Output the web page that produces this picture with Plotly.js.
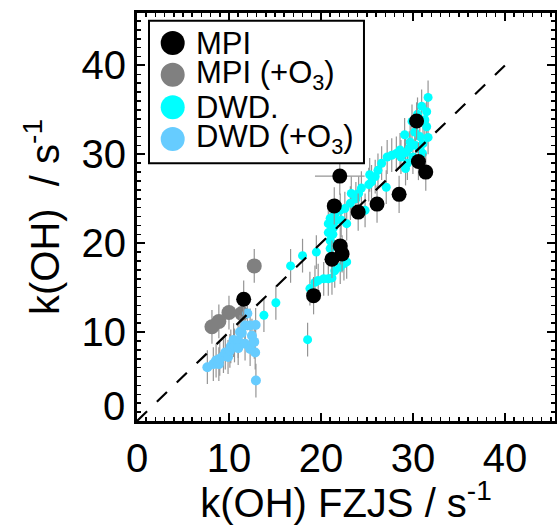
<!DOCTYPE html>
<html>
<head>
<meta charset="utf-8">
<script src="https://cdn.plot.ly/plotly-3.0.1.min.js"></script>
<style>html,body{margin:0;padding:0;background:#fff;}#chart{width:557px;height:525px;}</style>
</head>
<body>
<div id="chart"></div>
<script>
// ---- data ----
const mpiX   = [11.6, 19.2, 21.2, 22.1, 22.3, 21.45, 22.05, 24.05, 26.1, 28.5, 30.4, 30.6, 31.4];
const mpiY   = [13.7, 14.1, 18.2, 19.7, 18.8, 24.2, 27.55, 23.5, 24.4, 25.5, 33.75, 29.2, 28.0];
const mpiXErr = [0, 0, 0, 0, 0, 0, 2.7, 0, 0, 0, 0, 0, 0];
const mpiYErr = 2.1;

const mpiO3X = [8.15, 8.9, 10.0, 11.4, 12.75];
const mpiO3Y = [10.6, 11.2, 12.2, 12.1, 17.45];
const mpiO3YErr = 1.9;

const dwdX = [13.8, 15.1, 16.7, 18.0, 19.5, 18.55,
  18.8, 19.35, 19.7, 20.3, 20.8, 21.2, 21.5, 22.1, 22.5, 22.8,
  21.3, 21.0, 21.0, 21.3, 20.8, 21.4, 20.8, 21.5, 21.0, 22.8,
  22.2, 21.5, 22.1, 22.6, 23.2, 23.3, 23.8, 24.1, 24.4, 24.8,
  25.2, 25.5, 25.9, 25.3, 26.2, 26.6, 27.2, 27.7, 28.2, 28.7,
  28.6, 29.2, 29.6, 30.0, 29.2, 29.4, 27.1, 29.1, 29.7, 29.9,
  30.2, 30.75, 31.1, 31.05, 31.65, 31.5, 31.3, 31.5, 30.95, 31.65,
  30.5, 30.3, 30.8];
const dwdY = [11.9, 13.3, 17.45, 18.6, 19.0, 9.15,
  14.9, 15.6, 15.8, 16.0, 16.0, 16.1, 16.9, 17.3, 17.7, 17.9,
  18.3, 19.4, 20.3, 21.0, 21.2, 21.8, 22.2, 22.5, 22.8, 22.2,
  22.6, 23.2, 23.7, 23.9, 24.5, 25.6, 25.0, 25.6, 26.2, 23.7,
  26.6, 26.9, 27.5, 27.7, 28.2, 29.0, 29.7, 29.9, 30.1, 29.7,
  30.5, 30.2, 30.7, 29.7, 28.4, 29.0, 26.3, 32.2, 31.4, 33.7,
  32.5, 32.0, 31.2, 30.1, 31.9, 33.1, 33.9, 34.8, 35.4, 36.4,
  34.5, 31.0, 30.5];
const dwdYErr = 1.9;

const dwdO3X = [7.65, 8.3, 8.6, 8.9, 9.0, 9.4, 9.6, 9.9, 10.1, 10.2, 10.5, 10.6, 11.0,
  11.0, 11.2, 11.4, 11.75, 11.75, 12.0, 12.3, 12.3, 12.5, 12.75, 12.85, 12.9, 12.93];
const dwdO3Y = [6.05, 6.4, 6.8, 6.4, 7.0, 7.3, 7.7, 7.2, 7.9, 8.4, 9.1, 8.5, 9.0,
  8.2, 10.0, 9.9, 8.7, 10.75, 12.1, 10.75, 8.1, 9.6, 8.9, 7.7, 10.8, 4.55];
const dwdO3YErr = 1.9;

const oneToOneX = [0, 40];
const oneToOneY = [0, 40];

const tickVals = [0, 10, 20, 30, 40];
const xTickText = ['0', '10', '20', '30', '40'];
const yTickText = ['', '10', '20', '30', '40'];

const legendNames = ['MPI', 'MPI (+O<sub>3</sub>)', 'DWD.', 'DWD (+O<sub>3</sub>)'];
const seriesColors = ['#000000', '#808080', '#00ffff', '#66ccff'];

// ---- chart ----
const FONT = 'Liberation Sans, Arial, Helvetica, sans-serif';
const errStyle = {color: '#959595', thickness: 1.2, width: 0};

const traces = [
  {x: mpiO3X, y: mpiO3Y, mode: 'markers', type: 'scatter', name: 'MPI (+O3)',
   marker: {color: seriesColors[1], size: 15},
   error_y: Object.assign({type: 'constant', value: mpiO3YErr, visible: true}, errStyle)},
  {x: dwdO3X, y: dwdO3Y, mode: 'markers', type: 'scatter', name: 'DWD (+O3)',
   marker: {color: seriesColors[3], size: 10},
   error_y: Object.assign({type: 'constant', value: dwdO3YErr, visible: true}, errStyle)},
  {x: dwdX, y: dwdY, mode: 'markers', type: 'scatter', name: 'DWD.',
   marker: {color: seriesColors[2], size: 9},
   error_y: Object.assign({type: 'constant', value: dwdYErr, visible: true}, errStyle)},
  {x: mpiX, y: mpiY, mode: 'markers', type: 'scatter', name: 'MPI',
   marker: {color: seriesColors[0], size: 15},
   error_y: Object.assign({type: 'constant', value: mpiYErr, visible: true}, errStyle),
   error_x: Object.assign({type: 'data', array: mpiXErr, visible: true}, errStyle)},
  {x: oneToOneX, y: oneToOneY, mode: 'lines', type: 'scatter', name: '1:1',
   line: {color: '#000', width: 2.2, dash: '14px,13.66px'}}
];

// legend geometry (paper coords)
const legRowY = [0.9263, 0.8485, 0.7692, 0.6913];
const legMarkerX = 0.0854;
const legTextX = 0.137;

const shapes = [{type: 'rect', xref: 'paper', yref: 'paper', x0: 0.0287, x1: 0.543, y0: 0.632, y1: 0.981,
  line: {color: '#000', width: 2}, fillcolor: '#fff', layer: 'above'}];
const annotations = [];
legendNames.forEach((nm, i) => {
  shapes.push({type: 'circle', xref: 'paper', yref: 'paper', xsizemode: 'pixel', ysizemode: 'pixel',
    xanchor: legMarkerX, yanchor: legRowY[i], x0: -12, x1: 12, y0: -12, y1: 12,
    fillcolor: seriesColors[i], line: {width: 0}, layer: 'above'});
  annotations.push({xref: 'paper', yref: 'paper', x: legTextX, y: legRowY[i], xanchor: 'left', yanchor: 'middle',
    text: nm, showarrow: false, font: {family: FONT, size: 31, color: '#000'}});
});
// y "0" label, drawn slightly raised as in the reference
annotations.push({xref: 'paper', yref: 'y', x: 0, y: 0, xanchor: 'right', yanchor: 'middle', xshift: -10, yshift: 15,
  text: '0', showarrow: false, font: {family: FONT, size: 40, color: '#000'}});

const axisCommon = {
  showline: true, linewidth: 3, linecolor: '#000', mirror: 'ticks',
  ticks: 'inside', ticklen: 8, tickwidth: 2, tickcolor: '#000',
  showgrid: false, zeroline: false, tickvals: tickVals,
  tickfont: {family: FONT, size: 40, color: '#000'},
  minor: {ticks: 'inside', ticklen: 4, tickwidth: 1.5, tickcolor: '#000', dtick: 1, showgrid: false}
};

const layout = {
  width: 557, height: 525,
  margin: {l: 137, r: 2, t: 13, b: 104, pad: 0},
  paper_bgcolor: '#fff', plot_bgcolor: '#fff',
  showlegend: false,
  font: {family: FONT, color: '#000'},
  xaxis: Object.assign({}, axisCommon, {range: [0, 45.45], ticktext: xTickText,
    title: {text: 'k(OH) FZJS / s<sup>-1</sup>', font: {family: FONT, size: 40, color: '#000'}, standoff: 4}}),
  yaxis: Object.assign({}, axisCommon, {range: [0, 45.9], ticktext: yTickText,
    title: {text: 'k(OH)&nbsp; / s<sup>-1</sup>', font: {family: FONT, size: 40, color: '#000'}, standoff: 10}}),
  shapes: shapes,
  annotations: annotations
};

Plotly.newPlot('chart', traces, layout, {displayModeBar: false, staticPlot: true});
</script>
</body>
</html>
